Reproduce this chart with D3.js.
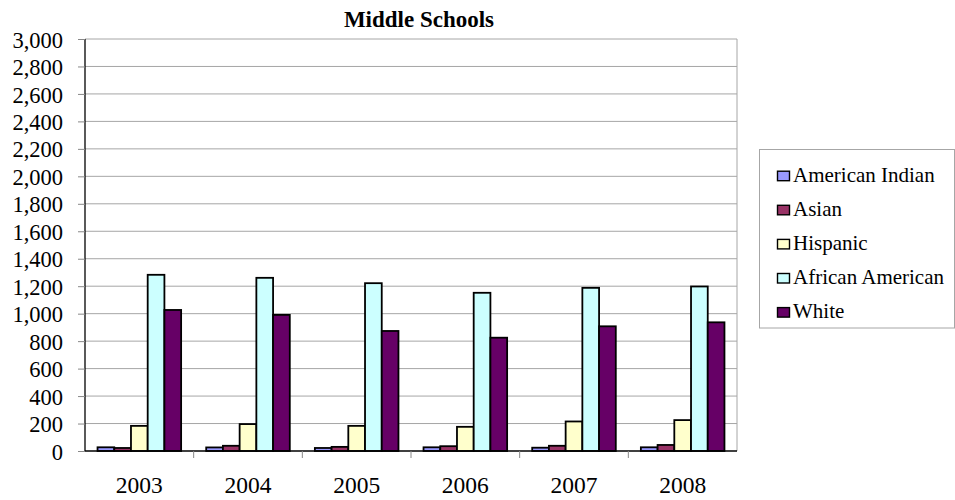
<!DOCTYPE html>
<html><head><meta charset="utf-8">
<script src="https://cdn.jsdelivr.net/npm/d3@7"></script>
<style>body{margin:0;background:#fff}svg{display:block}</style>
</head><body>
<svg id="c" width="955" height="500"></svg>
<script>
const years = ["2003","2004","2005","2006","2007","2008"];
const seriesNames = ["American Indian","Asian","Hispanic","African American","White"];
const seriesColors = ["#9999FF","#993366","#FFFFCC","#CCFFFF","#660066"];
const americanIndian = [27, 26, 22, 27, 24, 27];
const asian = [22, 38, 30, 35, 38, 44];
const hispanic = [183, 196, 183, 176, 215, 225];
const africanAmerican = [1283, 1261, 1222, 1152, 1188, 1198];
const white = [1027, 991, 874, 825, 908, 937];
const yTicks = d3.range(0, 3001, 200);

const series = [americanIndian, asian, hispanic, africanAmerican, white];
const svg = d3.select("#c");
const L = 85, R = 737, T = 39, B = 451;
const FONT = "Liberation Serif";

const x = d3.scaleBand().domain(years).range([L, R]).paddingInner(0).paddingOuter(0);
const bw = x.bandwidth() / 6.5;
const xs = d3.scaleBand().domain(d3.range(5)).range([bw * 0.75, bw * 5.75]).padding(0);
const y = d3.scaleLinear().domain([0, 3000]).range([B, T]);

// gridlines
svg.append("g").selectAll("line").data(yTicks.slice(1)).join("line")
  .attr("x1", L).attr("x2", R).attr("y1", d => y(d)).attr("y2", d => y(d))
  .attr("stroke", "#a6a6a6").attr("stroke-width", 1);
// right border
svg.append("line").attr("x1", R).attr("x2", R).attr("y1", T).attr("y2", B).attr("stroke", "#a6a6a6");

// bars
years.forEach((yr, i) => {
  series.forEach((s, k) => {
    svg.append("rect")
      .attr("x", x(yr) + xs(k)).attr("width", xs.bandwidth())
      .attr("y", y(s[i])).attr("height", B - y(s[i]))
      .attr("fill", seriesColors[k]).attr("stroke", "#000").attr("stroke-width", 1.8);
  });
});

// y axis
const ya = d3.axisLeft(y).tickValues(yTicks).tickSize(7).tickPadding(15).tickFormat(d3.format(","));
const gy = svg.append("g").attr("transform", `translate(${L},0)`).call(ya);
gy.attr("font-family", null).attr("font-size", null);
gy.select(".domain").attr("stroke", "#000").attr("stroke-width", 1.3).attr("d", `M0,${T}V${B}`);
gy.selectAll(".tick line").attr("stroke", "#888");
gy.selectAll("text").style("font-family", FONT).style("font-size", "22.5px").attr("fill", "#000").attr("dy", "0.36em");

// x axis
const xa = d3.axisBottom(x).tickSize(0).tickPadding(25);
const gx = svg.append("g").attr("transform", `translate(0,${B})`).call(xa);
gx.attr("font-family", null).attr("font-size", null);
gx.select(".domain").attr("stroke", "#000").attr("stroke-width", 1.3).attr("d", `M${L},0H${R}`);
gx.selectAll("text").style("font-family", FONT).style("font-size", "23.5px").attr("fill", "#000");
svg.append("g").selectAll("line").data(years.slice(1)).join("line")
  .attr("x1", d => x(d)).attr("x2", d => x(d)).attr("y1", B).attr("y2", B + 7)
  .attr("stroke", "#888");

// title
svg.append("text").attr("x", 419).attr("y", 27).attr("text-anchor", "middle")
  .style("font-family", FONT).style("font-size", "23px").style("font-weight", "bold").text("Middle Schools");

// legend
const lg = svg.append("g");
lg.append("rect").attr("x", 759.5).attr("y", 149.5).attr("width", 195).attr("height", 178.5)
  .attr("fill", "#fff").attr("stroke", "#a6a6a6");
seriesNames.forEach((n, k) => {
  const by = 181.7 + k * 34.1;
  lg.append("rect").attr("x", 777.5).attr("y", by - 10.5).attr("width", 12).attr("height", 9.5)
    .attr("fill", seriesColors[k]).attr("stroke", "#000").attr("stroke-width", 1.4);
  lg.append("text").attr("x", 793).attr("y", by)
    .style("font-family", FONT).style("font-size", "21px").text(n);
});
</script>
</body></html>
